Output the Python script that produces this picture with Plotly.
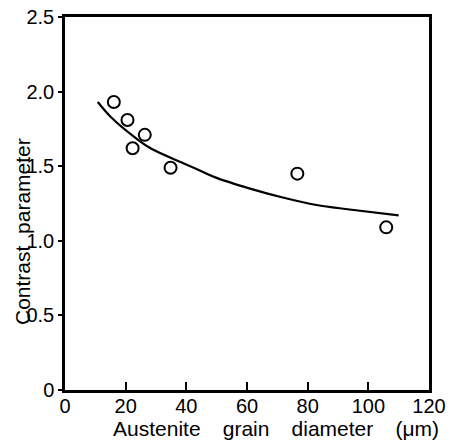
import plotly.graph_objects as go

# Measured data points (open circles)
grain_diameter = [16.1, 20.6, 22.3, 26.3, 34.8, 76.6, 105.9]
contrast = [1.93, 1.81, 1.62, 1.71, 1.49, 1.45, 1.09]

# Fitted curve
curve_x = [10.8, 15.1, 22.6, 28.2, 39.0, 44.6, 50.2, 61.0, 71.8, 82.9, 93.8, 110.0]
curve_y = [1.93, 1.83, 1.70, 1.62, 1.52, 1.47, 1.42, 1.35, 1.29, 1.24, 1.21, 1.17]

x_ticks = [0, 20, 40, 60, 80, 100, 120]
y_ticks = [0, 0.5, 1.0, 1.5, 2.0, 2.5]
y_tick_text = ["0", "0.5", "1.0", "1.5", "2.0", "2.5"]

FONT = "Liberation Sans"
GAP = "\u2002\u00a0\u00a0"

fig = go.Figure()
fig.add_trace(go.Scatter(
    x=curve_x, y=curve_y, mode="lines",
    line=dict(color="black", width=2.2, shape="spline"),
    showlegend=False, hoverinfo="skip",
))
fig.add_trace(go.Scatter(
    x=grain_diameter, y=contrast, mode="markers",
    marker=dict(symbol="circle-open", size=12, color="black",
                line=dict(color="black", width=2)),
    showlegend=False,
))

L, R, T, B = 65, 21, 17, 51
W, H = 450, 441
pw, ph = W - L - R, H - T - B

def px_x(px):
    return (px - L) / pw

def px_y(py):
    return (H - B - py) / ph

fig.update_layout(
    width=W, height=H,
    margin=dict(l=L, r=R, t=T, b=B, pad=0, autoexpand=False),
    paper_bgcolor="white", plot_bgcolor="white",
    font=dict(family=FONT, color="black", size=20),
    xaxis=dict(
        range=[0, 120], tickvals=x_ticks, ticks="inside", ticklen=8,
        tickwidth=2, tickcolor="black", automargin=False,
        ticklabelstandoff=-4,
        showline=True, linewidth=2.5, linecolor="black", mirror=True,
        showgrid=False, zeroline=False,
        tickfont=dict(family=FONT, size=20),
    ),
    yaxis=dict(
        range=[0, 2.5], tickvals=y_ticks, ticktext=y_tick_text,
        ticks="outside", ticklen=4, tickwidth=2, tickcolor="black",
        automargin=False,
        showline=True, linewidth=2.5, linecolor="black", mirror=True,
        showgrid=False, zeroline=False,
        tickfont=dict(family=FONT, size=20),
    ),
    annotations=[
        dict(text="Austenite" + GAP + "grain" + GAP + "diameter" + GAP + "(\u03bcm)",
             xref="paper", yref="paper", x=px_x(276), y=px_y(428),
             xanchor="center", yanchor="middle", showarrow=False,
             font=dict(family=FONT, size=21)),
        dict(text="Contrast\u00a0\u00a0parameter",
             xref="paper", yref="paper", x=px_x(23), y=px_y(232),
             xanchor="center", yanchor="middle", showarrow=False,
             textangle=-90, font=dict(family=FONT, size=21)),
    ],
)

fig.write_html(
    "out.html",
    config={"displayModeBar": False},
    post_script="document.body.style.margin='0';document.body.style.padding='0';"
                "document.documentElement.style.overflow='hidden';",
)
